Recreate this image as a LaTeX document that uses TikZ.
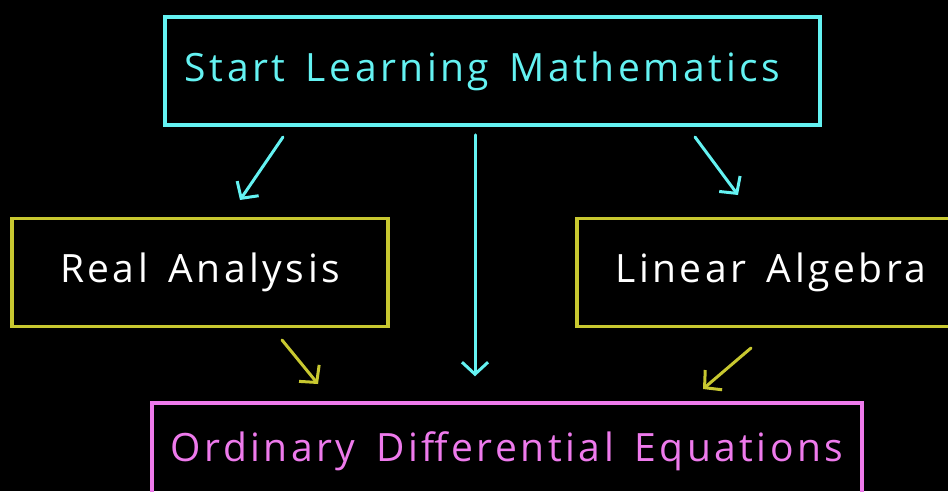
\documentclass[tikz,border=0pt]{standalone}
\usepackage{fontspec}
\setmainfont{Open Sans}[LetterSpace=9,WordSpace=1.5]
\usetikzlibrary{arrows.meta}
\definecolor{cyanline}{RGB}{100,242,242}
\definecolor{yellowline}{RGB}{200,200,48}
\definecolor{pinkline}{RGB}{238,122,236}
\tikzset{
  box/.style={draw,line width=3.5pt,minimum height=108pt,inner sep=0pt,font=\fontsize{39}{46}\selectfont},
  arr/.style={line width=3pt,line cap=round,line join=round,-{Straight Barb[length=12pt,width=26pt,line width=3pt]}}
}
\begin{document}
\begin{tikzpicture}[x=1pt,y=-1pt]
\useasboundingbox (0,0) rectangle (948,491);
\fill[black] (0,0) rectangle (948,491);
% boxes
\node[box,cyanline,minimum width=655pt] (start) at (492.5,71) {\hspace*{-20pt}Start Learning Mathematics};
\node[box,yellowline,text=white,minimum width=376pt] (real) at (200,272.5) {Real Analysis};
\node[box,yellowline,text=white,minimum width=388pt] (linear) at (771,272.5) {Linear Algebra};
\node[box,pinkline,minimum width=710pt,minimum height=96pt] (ode) at (507,451) {Ordinary Differential Equations};
% arrow ends
\coordinate (s1) at (283,137); \coordinate (e1) at (240,200);
\coordinate (s3) at (695,137); \coordinate (e3) at (738,195);
\coordinate (s4) at (282,340); \coordinate (e4) at (318,384);
\coordinate (s5) at (751,348); \coordinate (e5) at (703,389);
\draw[arr,cyanline] (s1) -- (e1);
\draw[arr,cyanline,shorten <=8pt,shorten >=25pt] (start.south -| 475,0) -- (ode.north -| 475,0);
\draw[arr,cyanline] (s3) -- (e3);
\draw[arr,yellowline] (s4) -- (e4);
\draw[arr,yellowline] (s5) -- (e5);
\end{tikzpicture}
\end{document}
